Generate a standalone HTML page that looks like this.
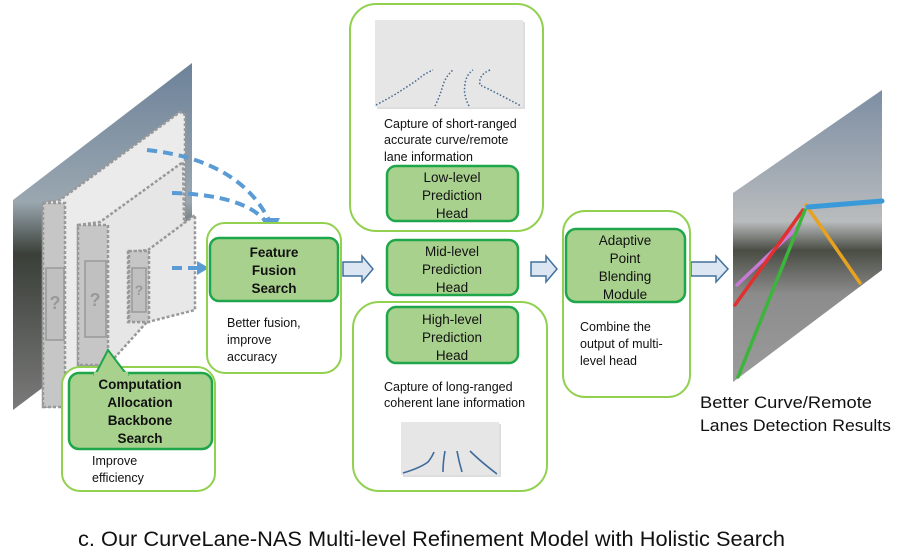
<!DOCTYPE html>
<html><head><meta charset="utf-8"><style>
body{margin:0;background:#fff;}
svg{display:block;font-family:"Liberation Sans",sans-serif;}
.g{fill:#a9d18e;stroke:#1fa64a;stroke-width:2.5;}
.o{fill:#fff;stroke:#92d050;stroke-width:2;}
.t{font-size:12.5px;fill:#111;}
.h{font-size:13.5px;fill:#111;text-anchor:middle;}
.b{font-weight:bold;}
.ar{fill:#dce6f2;stroke:#41719c;stroke-width:1.5;}
</style></head><body>
<svg width="897" height="554" viewBox="0 0 897 554">
<defs>
<linearGradient id="sky" x1="0" y1="0" x2="0" y2="1"><stop offset="0" stop-color="#6d8299"/><stop offset="0.4" stop-color="#9aa7b0"/><stop offset="0.55" stop-color="#3a3f38"/><stop offset="1" stop-color="#7a7a7a"/></linearGradient>
<linearGradient id="sky2" x1="0" y1="0" x2="0" y2="1"><stop offset="0" stop-color="#7d8ea3"/><stop offset="0.45" stop-color="#b9bcbd"/><stop offset="0.55" stop-color="#4a4d44"/><stop offset="0.7" stop-color="#8c8c8c"/><stop offset="1" stop-color="#9b9b9b"/></linearGradient>
</defs>
<polygon points="13,200 192,63 192,275 13,410" fill="url(#sky)"/>
<g stroke="#999" stroke-width="2.5" stroke-dasharray="3,2">
<polygon points="43,203 60,200 180,112 185,115 185,250 65,405 43,407" fill="#ebebeb"/>
<polygon points="78,225 100,222 183,162 185,280 108,365 78,365" fill="#e6e6e6"/>
<polygon points="128,252 148,250 195,215 195,310 148,322 128,322" fill="#e8e8e8"/>
</g>
<rect x="43" y="203" width="22" height="204" fill="#c6c6c6" stroke="#999" stroke-dasharray="3,2" stroke-width="2.5"/>
<rect x="78" y="225" width="30" height="140" fill="#c6c6c6" stroke="#999" stroke-dasharray="3,2" stroke-width="2.5"/>
<rect x="129" y="251" width="20" height="71" fill="#c6c6c6" stroke="#999" stroke-dasharray="3,2" stroke-width="2.5"/>
<rect x="46" y="268" width="18" height="72" fill="#c0c0c0" stroke="#999" stroke-width="1.5"/>
<rect x="85" y="261" width="21" height="76" fill="#c0c0c0" stroke="#999" stroke-width="1.5"/>
<rect x="132" y="268" width="14" height="44" fill="#c0c0c0" stroke="#999" stroke-width="1.5"/>
<g font-size="18" font-weight="bold" fill="#999" text-anchor="middle"><text x="55" y="309">?</text><text x="95" y="306">?</text><text x="139" y="295" font-size="14">?</text></g>
<g fill="none" stroke="#5b9bd5" stroke-width="4" stroke-dasharray="10,6">
<path d="M147,150 Q240,160 270,222"/>
<path d="M172,193 Q245,195 266,222"/>
<path d="M172,268 L198,268"/>
</g>
<polygon points="262,218 280,218 273,232" fill="#5b9bd5"/>
<polygon points="197,261 209,268 197,275" fill="#5b9bd5"/>
<rect class="o" x="207" y="223" width="134" height="150" rx="18"/>
<rect class="g" x="210" y="238" width="128" height="63" rx="9"/>
<text class="h b" x="274" y="257">Feature</text><text class="h b" x="274" y="275">Fusion</text><text class="h b" x="274" y="293">Search</text>
<text class="t" x="227" y="327">Better fusion,</text><text class="t" x="227" y="344">improve</text><text class="t" x="227" y="361">accuracy</text>
<rect class="o" x="62" y="367" width="153" height="124" rx="18"/>
<rect class="g" x="69" y="373" width="143" height="76" rx="10"/>
<polygon points="95,375 108,350 127,375" fill="#a9d18e" stroke="#1fa64a" stroke-width="2"/>
<rect x="94" y="372" width="34" height="5" fill="#a9d18e"/>
<text class="h b" x="140" y="389">Computation</text><text class="h b" x="140" y="407">Allocation</text><text class="h b" x="140" y="425">Backbone</text><text class="h b" x="140" y="443">Search</text>
<text class="t" x="92" y="465">Improve</text><text class="t" x="92" y="482">efficiency</text>
<polygon class="ar" points="343,262 362,262 362,256 373,269 362,282 362,276 343,276"/>
<polygon class="ar" points="531,262 546,262 546,256 557,269 546,282 546,276 531,276"/>
<polygon class="ar" points="691,262 716,262 716,256 728,269 716,282 716,276 691,276"/>
<rect class="o" x="350" y="4" width="193" height="227" rx="26"/>
<rect x="377" y="22" width="148" height="87" fill="#bbb" opacity="0.5"/>
<rect x="375" y="20" width="148" height="87" fill="#e6e6e6"/>
<g fill="none" stroke="#44678f" stroke-width="1.5" stroke-dasharray="1.5,2">
<path d="M376,105 Q395,95 405,88 Q415,82 422,76 Q428,72 433,70"/>
<path d="M435,106 Q440,96 443,85 Q446,76 453,70"/>
<path d="M469,106 Q463,95 465,84 Q466,75 473,70"/>
<path d="M490,70 Q478,75 480,85 Q495,92 521,106"/>
</g>
<text class="t" x="384" y="128">Capture of short-ranged</text><text class="t" x="384" y="144">accurate curve/remote</text><text class="t" x="384" y="161">lane information</text>
<rect class="g" x="387" y="166" width="131" height="55" rx="9"/>
<text class="h" x="452" y="182">Low-level</text><text class="h" x="452" y="200">Prediction</text><text class="h" x="452" y="218">Head</text>
<rect class="g" x="387" y="240" width="131" height="55" rx="9"/>
<text class="h" x="452" y="256">Mid-level</text><text class="h" x="452" y="274">Prediction</text><text class="h" x="452" y="292">Head</text>
<rect class="o" x="353" y="302" width="194" height="189" rx="26"/>
<rect class="g" x="387" y="307" width="131" height="56" rx="9"/>
<text class="h" x="452" y="324">High-level</text><text class="h" x="452" y="342">Prediction</text><text class="h" x="452" y="360">Head</text>
<text class="t" x="384" y="391">Capture of long-ranged</text><text class="t" x="384" y="407">coherent lane information</text>
<rect x="403" y="424" width="98" height="53" fill="#bbb" opacity="0.5"/>
<rect x="401" y="422" width="98" height="53" fill="#e6e6e6"/>
<g fill="none" stroke="#3f6a9c" stroke-width="1.6">
<path d="M403,473 Q420,468 428,462 Q432,457 434,452"/><path d="M445,451 Q443,462 443,472"/><path d="M457,451 Q459,462 462,472"/><path d="M470,451 Q480,461 497,474"/>
</g>
<rect class="o" x="563" y="211" width="127" height="186" rx="22"/>
<rect class="g" x="566" y="229" width="119" height="73" rx="10"/>
<text class="h" x="625" y="245">Adaptive</text><text class="h" x="625" y="263">Point</text><text class="h" x="625" y="281">Blending</text><text class="h" x="625" y="299">Module</text>
<text class="t" x="580" y="331">Combine the</text><text class="t" x="580" y="348">output of multi-</text><text class="t" x="580" y="365">level head</text>
<polygon points="733,193 882,90 882,270 733,382" fill="url(#sky2)"/>
<g fill="none" stroke-width="3.5" stroke-linecap="round">
<path d="M737,285 L800,225" stroke="#c77ad6"/>
<path d="M735,305 L803,210" stroke="#e03030"/>
<path d="M738,377 L805,210" stroke="#3cb53c"/>
<path d="M806,205 L860,283" stroke="#e6a220"/>
<path d="M808,207 L882,201" stroke="#3a9ad9" stroke-width="5"/>
</g>
<text x="700" y="408" font-size="17" fill="#111" textLength="172" lengthAdjust="spacingAndGlyphs">Better Curve/Remote</text>
<text x="700" y="431" font-size="17" fill="#111" textLength="191" lengthAdjust="spacingAndGlyphs">Lanes Detection Results</text>
<text x="78" y="546" font-size="21" fill="#111" textLength="707" lengthAdjust="spacingAndGlyphs">c. Our CurveLane-NAS Multi-level Refinement Model with Holistic Search</text>
</svg>
</body></html>
